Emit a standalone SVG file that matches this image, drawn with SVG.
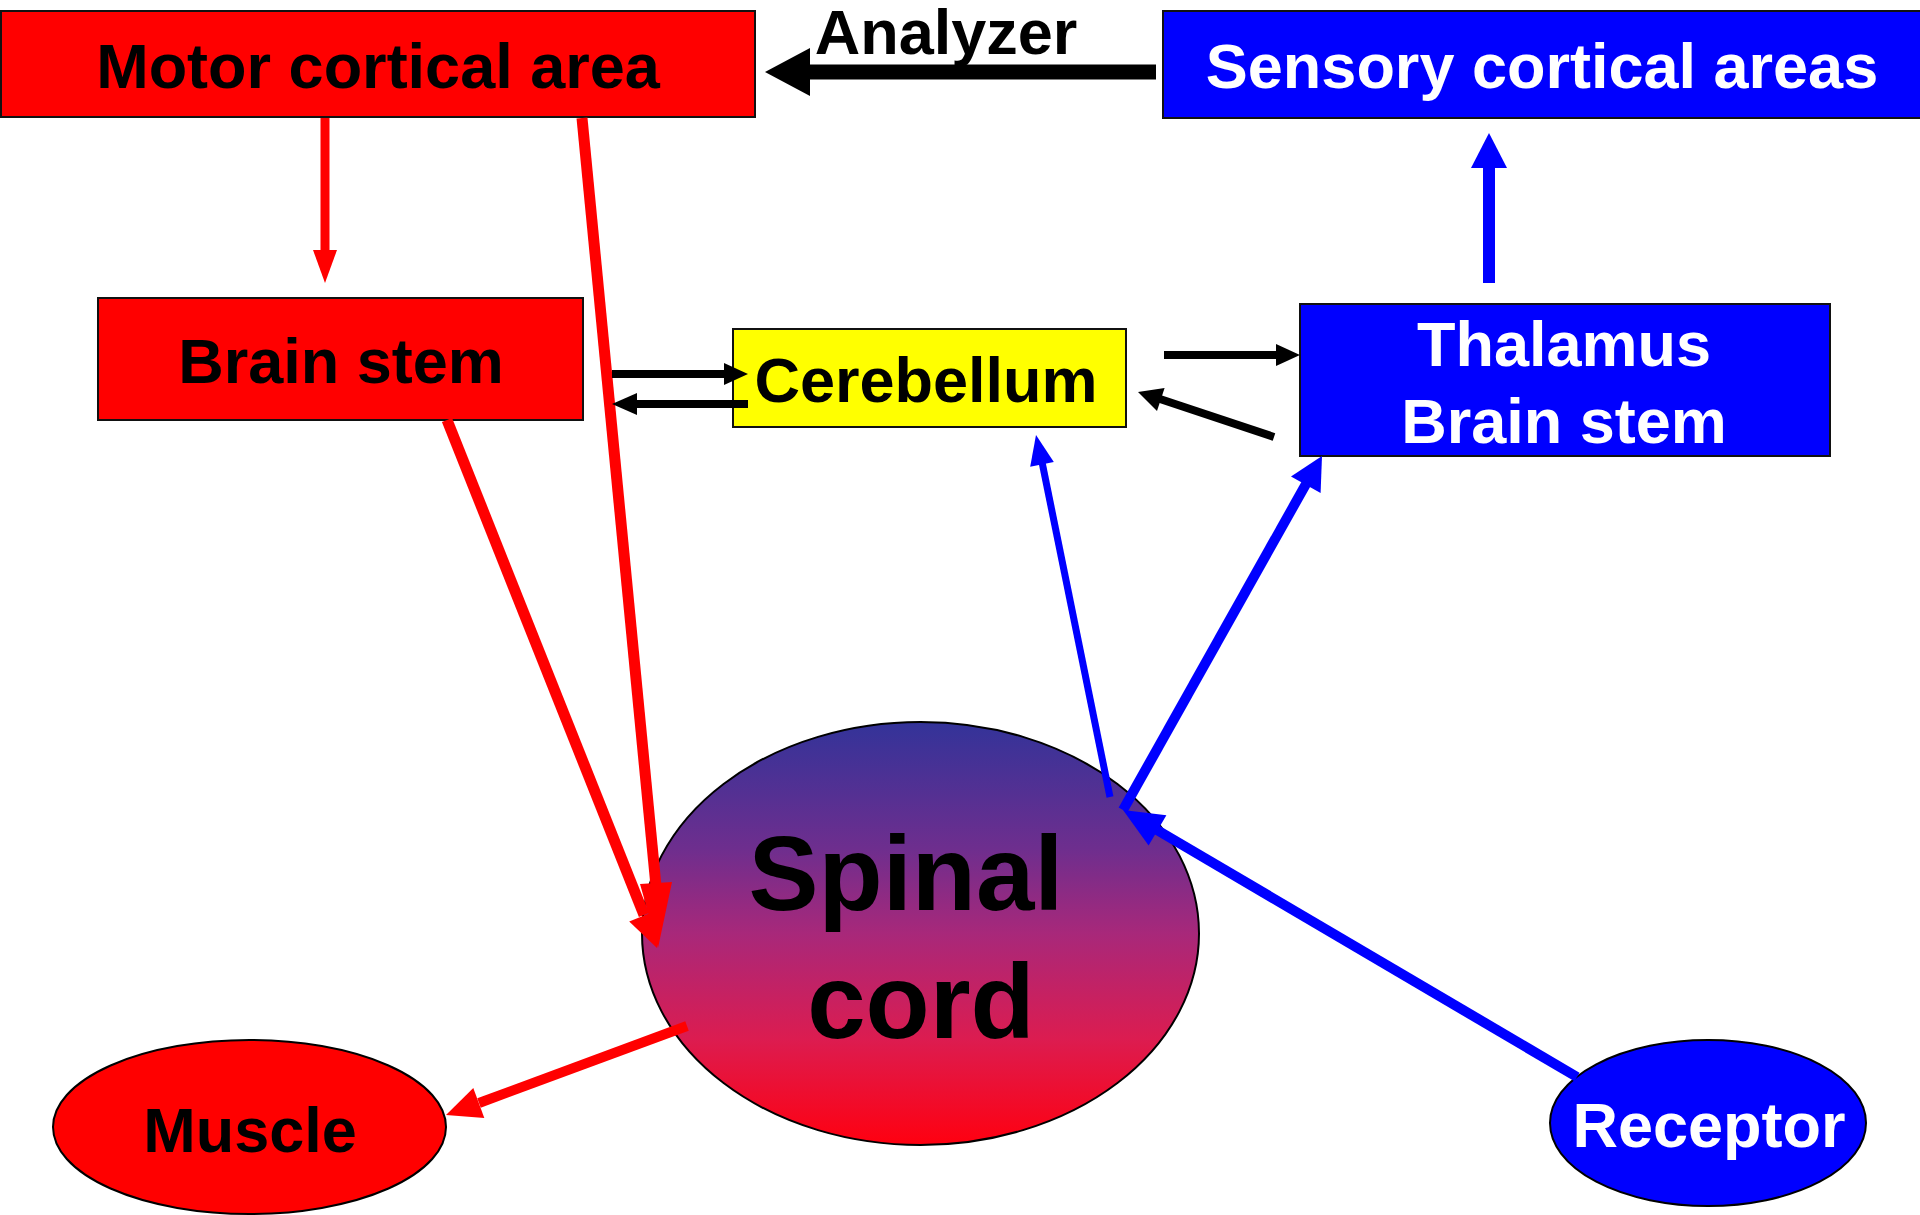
<svg xmlns="http://www.w3.org/2000/svg" width="1920" height="1215" viewBox="0 0 1920 1215">
<defs>
<style>
.t{font-family:"Liberation Sans",Arial,sans-serif;font-weight:bold;font-size:63px;text-anchor:middle}
.big{font-size:105px}
.blk{fill:#000}
.wht{fill:#fff}
.box{stroke:#111;stroke-width:2}
.red{stroke:#ff0000;fill:none}
.blue{stroke:#0000ff;fill:none}
.black{stroke:#000;fill:none}
.hr{fill:#ff0000}
.hb{fill:#0000ff}
.hk{fill:#000}
</style>
<linearGradient id="sg" x1="0" y1="0" x2="0" y2="1">
<stop offset="0" stop-color="#333399"/>
<stop offset="0.3" stop-color="#6e2e8e"/>
<stop offset="0.5" stop-color="#a8287a"/>
<stop offset="0.75" stop-color="#dc1c50"/>
<stop offset="1" stop-color="#ff0010"/>
</linearGradient>
</defs>
<rect width="1920" height="1215" fill="#fff"/>
<g id="motor">
<rect class="box" x="1" y="11" width="754" height="106" fill="#ff0000"/>
<text class="t blk" x="378" y="88">Motor cortical area</text>
</g>
<g id="sensory">
<rect class="box" x="1163" y="11" width="760" height="107" fill="#0000ff"/>
<text class="t wht" x="1542" y="88">Sensory cortical areas</text>
</g>
<g id="analyzer-label">
<text class="t blk" x="946" y="54">Analyzer</text>
</g>
<g id="brainstem">
<rect class="box" x="98" y="298" width="485" height="122" fill="#ff0000"/>
<text class="t blk" x="341" y="383">Brain stem</text>
</g>
<g id="cerebellum">
<rect class="box" x="733" y="329" width="393" height="98" fill="#ffff00"/>
<text class="t blk" x="926" y="402">Cerebellum</text>
</g>
<g id="thalamus">
<rect class="box" x="1300" y="304" width="530" height="152" fill="#0000ff"/>
<text class="t wht" x="1564" y="366">Thalamus</text>
<text class="t wht" x="1564" y="443">Brain stem</text>
</g>
<g id="spinal">
<ellipse cx="920.5" cy="933.5" rx="278.5" ry="211.5" fill="url(#sg)" stroke="#000" stroke-width="2"/>
<text class="t big blk" x="906" y="910">Spinal</text>
<text class="t big blk" x="921" y="1038">cord</text>
</g>
<g id="muscle">
<ellipse cx="249.5" cy="1127" rx="196.5" ry="87" fill="#ff0000" stroke="#000" stroke-width="2"/>
<text class="t blk" x="250" y="1152">Muscle</text>
</g>
<g id="receptor">
<ellipse cx="1708" cy="1123" rx="158" ry="83" fill="#0000ff" stroke="#000" stroke-width="2"/>
<text class="t wht" x="1709" y="1147">Receptor</text>
</g>
<g id="connectors">
<line class="black" x1="1156" y1="72" x2="808" y2="72" stroke-width="15"/>
<polygon class="hk" points="765,72 810,48 810,96"/>
<line class="red" x1="325" y1="118" x2="325" y2="252" stroke-width="9"/>
<polygon class="hr" points="325,283 313,250 337,250"/>
<line class="red" x1="582" y1="118" x2="656" y2="886" stroke-width="11"/>
<polygon class="hr" points="658,948 640,884 672,882"/>
<line class="red" x1="447" y1="420" x2="644" y2="915" stroke-width="11"/>
<polygon class="hr" points="657,948 659,909.6 629.2,921.4"/>
<line class="red" x1="687" y1="1026" x2="479" y2="1103" stroke-width="10"/>
<polygon class="hr" points="446,1115 484.3,1117.9 473.3,1087.9"/>
<line class="black" x1="612" y1="374" x2="726" y2="374" stroke-width="8"/>
<polygon class="hk" points="748,374 724,363 724,385"/>
<line class="black" x1="748" y1="404" x2="635" y2="404" stroke-width="8"/>
<polygon class="hk" points="612,404 637,393 637,415"/>
<line class="black" x1="1164" y1="355" x2="1278" y2="355" stroke-width="8"/>
<polygon class="hk" points="1300,355 1276,344 1276,366"/>
<line class="black" x1="1274" y1="437" x2="1160" y2="399" stroke-width="8"/>
<polygon class="hk" points="1138,392 1164.6,388.1 1157,410.9"/>
<line class="blue" x1="1489" y1="283" x2="1489" y2="166" stroke-width="12"/>
<polygon class="hb" points="1489,133 1471,168 1507,168"/>
<line class="blue" x1="1110" y1="797" x2="1042" y2="462" stroke-width="7"/>
<polygon class="hb" points="1036,435 1053.8,462 1030.2,466.8"/>
<line class="blue" x1="1123" y1="810" x2="1306" y2="484" stroke-width="10"/>
<polygon class="hb" points="1322,456 1320.6,493.1 1291,476.5"/>
<line class="blue" x1="1577" y1="1077" x2="1157" y2="830" stroke-width="10"/>
<polygon class="hb" points="1123,810 1166.4,815.2 1148.6,845.4"/>
</g>
</svg>
